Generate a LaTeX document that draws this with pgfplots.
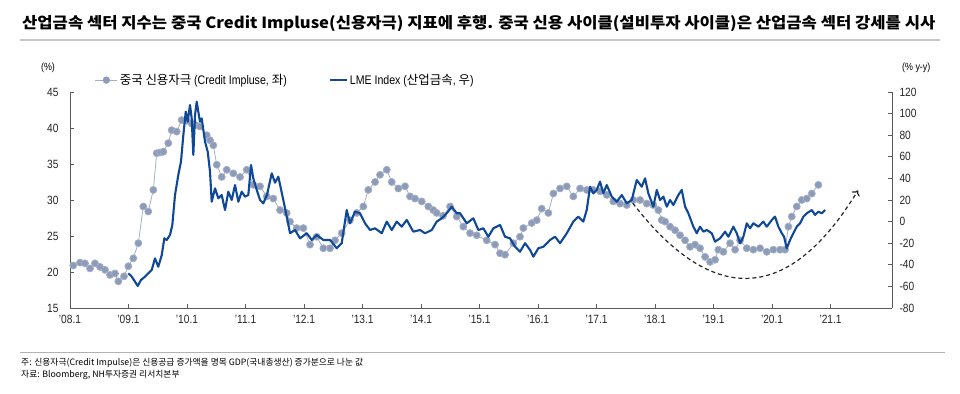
\documentclass[border=0pt]{standalone}
\usepackage{pgfplots}
\pgfplotsset{compat=1.18}
\usepackage{fontspec}
\setmainfont{Liberation Sans}[FakeStretch=0.85]
\newfontfamily\kr{Noto Sans CJK KR}[FakeStretch=0.9]
\newfontfamily\krn{Noto Sans CJK KR}
\usetikzlibrary{arrows.meta}
\definecolor{cgray}{RGB}{140,155,186}
\definecolor{cgrayline}{RGB}{165,175,195}
\definecolor{cblue}{RGB}{14,72,150}
\definecolor{caxis}{RGB}{90,90,90}

\pgfplotstableread{
x y
0.056 20.9
0.171 21.3
0.256 21.2
0.342 20.5
0.427 21.2
0.513 20.7
0.598 20.3
0.684 19.6
0.769 19.8
0.826 18.7
0.923 19.4
0.997 20.8
1.082 21.9
1.168 24.0
1.253 29.1
1.338 28.4
1.424 31.4
1.482 36.5
1.540 36.6
1.595 36.7
1.680 37.9
1.738 39.7
1.824 39.5
1.909 41.1
1.995 41.0
2.080 40.6
2.150 40.4
2.222 40.2
2.337 39.0
2.393 38.3
2.450 37.6
2.508 34.9
2.593 33.2
2.679 34.2
2.791 33.7
2.906 33.2
3.021 34.2
3.133 32.1
3.248 31.9
3.362 30.5
3.475 30.2
3.590 28.6
3.704 28.2
3.761 27.0
3.875 26.1
3.988 26.1
4.103 23.8
4.217 24.9
4.330 23.3
4.444 23.3
4.530 24.4
4.644 25.4
4.786 27.2
4.901 28.2
5.014 29.1
5.099 31.4
5.214 32.5
5.299 33.5
5.414 34.2
5.499 32.5
5.612 31.6
5.726 31.9
5.812 30.5
5.897 30.2
6.012 29.8
6.125 29.1
6.210 28.6
6.268 28.2
6.376 27.8
6.496 29.1
6.610 27.7
6.723 26.3
6.838 25.4
6.952 25.1
7.123 24.4
7.265 23.8
7.350 22.6
7.436 22.4
7.578 24.0
7.692 24.9
7.749 26.1
7.892 26.8
7.978 27.2
8.063 28.8
8.176 28.2
8.262 30.9
8.376 31.6
8.491 31.9
8.603 30.5
8.718 31.6
8.832 31.4
8.945 31.4
9.060 31.2
9.174 30.7
9.287 29.8
9.402 29.5
9.516 29.3
9.629 30.0
9.744 30.0
9.858 29.5
9.971 29.3
10.056 28.6
10.115 27.2
10.171 27.0
10.256 26.3
10.342 25.8
10.427 25.1
10.513 24.4
10.598 23.5
10.684 23.8
10.769 23.3
10.855 22.1
10.940 21.4
11.026 21.7
11.082 23.1
11.168 22.8
11.282 24.0
11.368 23.1
11.453 24.4
11.568 23.3
11.680 23.1
11.795 23.3
11.909 22.8
12.022 23.1
12.137 23.1
12.222 23.1
12.279 26.3
12.337 27.7
12.422 29.1
12.508 30.0
12.593 30.2
12.679 30.9
12.791 32.1
}\credit

\pgfplotstableread{
x y
0.997 -47.9
1.055 -51.0
1.111 -55.6
1.157 -59.6
1.214 -54.0
1.282 -51.0
1.338 -48.0
1.397 -44.8
1.453 -34.0
1.509 -41.8
1.568 -31.0
1.612 -15.5
1.653 -17.0
1.709 -12.4
1.749 -3.1
1.795 24.6
1.851 43.1
1.897 55.5
1.937 80.0
1.978 101.8
2.012 92.5
2.051 108.0
2.080 95.6
2.108 61.7
2.137 98.7
2.166 111.0
2.193 101.8
2.222 92.5
2.251 95.6
2.308 74.0
2.354 64.7
2.393 46.2
2.422 18.4
2.479 30.8
2.535 21.6
2.593 24.6
2.650 10.7
2.706 27.7
2.764 20.0
2.821 33.9
2.877 18.4
2.935 27.7
2.991 23.1
3.048 24.6
3.094 52.4
3.133 40.0
3.192 29.3
3.248 20.0
3.304 16.9
3.368 25.0
3.448 44.7
3.504 36.0
3.561 41.6
3.646 20.0
3.704 4.6
3.761 -10.8
3.846 -7.8
3.932 -15.5
4.046 -10.8
4.132 -17.0
4.217 -12.4
4.330 -17.0
4.444 -17.0
4.559 -24.7
4.644 -20.0
4.730 10.7
4.786 -1.6
4.872 9.2
4.957 7.7
5.043 -1.6
5.128 -7.8
5.214 -6.2
5.328 -10.8
5.414 0.0
5.499 -7.8
5.585 0.0
5.670 -4.7
5.756 1.5
5.868 -9.3
5.983 -7.8
6.068 -10.8
6.183 -7.8
6.268 0.0
6.354 3.1
6.439 7.7
6.525 13.8
6.610 7.7
6.667 7.7
6.723 3.1
6.781 -1.6
6.894 3.1
6.979 -7.8
7.065 -6.2
7.150 -14.0
7.236 -6.2
7.350 -3.1
7.436 -14.0
7.521 -15.5
7.607 -23.3
7.692 -27.9
7.778 -20.0
7.863 -26.2
7.920 -32.5
8.005 -24.7
8.091 -23.3
8.205 -17.0
8.291 -14.0
8.376 -20.0
8.491 -10.8
8.603 0.0
8.689 4.6
8.774 0.0
8.832 10.7
8.889 32.3
8.945 26.2
9.003 29.3
9.060 37.0
9.116 26.2
9.174 33.9
9.260 23.1
9.345 18.4
9.431 24.6
9.516 16.9
9.602 20.0
9.687 38.5
9.772 32.3
9.829 40.1
9.885 26.2
9.971 13.8
10.029 29.3
10.085 20.0
10.142 23.1
10.200 13.8
10.256 20.0
10.313 15.4
10.398 24.6
10.456 29.3
10.513 13.8
10.569 7.7
10.655 -4.7
10.713 -10.8
10.769 -4.7
10.826 -9.3
10.884 -7.8
10.969 -10.8
11.026 -18.6
11.111 -15.5
11.197 -9.3
11.253 -14.0
11.338 -4.7
11.396 -10.8
11.453 -20.1
11.509 -14.0
11.568 -1.6
11.624 -6.2
11.680 -1.6
11.766 -4.7
11.851 0.0
11.909 -4.7
11.995 1.5
12.051 4.6
12.108 -4.7
12.166 -10.8
12.205 -14.0
12.251 -24.7
12.308 -17.0
12.364 -10.8
12.422 -4.7
12.479 -1.6
12.535 4.6
12.593 7.7
12.679 10.7
12.735 6.2
12.791 9.2
12.849 7.7
12.906 10.7
}\lme

\begin{document}
\begin{tikzpicture}[x=1bp,y=1bp]
\path[use as bounding box] (0bp,0bp) rectangle (960bp,394bp);
% title
\node[anchor=west, inner sep=0pt] at (22bp,370bp) {\scalebox{1.075}[1]{\krn\bfseries\fontsize{15.5}{18}\selectfont 산업금속 섹터 지수는 중국 Credit Impluse(신용자극) 지표에 후행. 중국 신용 사이클(설비투자 사이클)은 산업금속 섹터 강세를 시사}};
\draw[black!22, line width=1.6bp] (20bp,354bp) -- (940bp,354bp);
% axis units
\node[inner sep=0pt, font=\fontsize{10.5}{12}\selectfont] at (48bp,326bp) {(\%)};
\node[anchor=west, inner sep=0pt, font=\fontsize{10.5}{12}\selectfont] at (902bp,326bp) {(\% y-y)};
% footer
\draw[black!30, line width=0.8bp] (20bp,42bp) -- (945bp,42bp);
\node[anchor=west, inner sep=0pt] at (21bp,31bp) {\krn\fontsize{8.8}{10}\selectfont 주: 신용자극(Credit Impulse)은 신용공급 증가액을 명목 GDP(국내총생산) 증가분으로 나눈 값};
\node[anchor=west, inner sep=0pt] at (21bp,19bp) {\krn\fontsize{8.8}{10}\selectfont 자료: Bloomberg, NH투자증권 리서치본부};

\begin{axis}[
  at={(70bp,86bp)}, anchor=south west, scale only axis,
  width=822bp, height=216bp,
  xmin=0, xmax=14.05, ymin=15, ymax=45,
  xtick={0,1,...,13},
  xticklabels={'08.1,'09.1,'10.1,'11.1,'12.1,'13.1,'14.1,'15.1,'16.1,'17.1,'18.1,'19.1,'20.1,'21.1},
  ytick={15,20,...,45},
  axis x line*=bottom, axis y line*=left,
  axis line style={caxis, line width=0.7bp},
  tick style={caxis, line width=0.6bp},
  tick align=inside, major tick length=4bp,
  ticklabel style={font=\fontsize{12}{13}\selectfont, text=black!85},
  /pgf/number format/assume math mode=true,
  xticklabel style={yshift=-4bp},
  yticklabel style={xshift=-8bp},
  clip=false,
]
\addplot[color=cgrayline, line width=0.8bp, mark=*, mark size=3.5bp, mark options={fill=cgray, draw=none}] table[x=x,y=y] {\credit};
\end{axis}

\begin{axis}[
  at={(70bp,86bp)}, anchor=south west, scale only axis,
  width=822bp, height=216bp,
  xmin=0, xmax=14.05, ymin=-80, ymax=120,
  ytick={-80,-60,...,120},
  axis x line=none, axis y line*=right,
  axis line style={caxis, line width=0.7bp},
  tick style={caxis, line width=0.6bp},
  tick align=inside, major tick length=4bp,
  ticklabel style={font=\fontsize{12}{13}\selectfont, text=black!85},
  /pgf/number format/assume math mode=true,
  yticklabel style={xshift=4bp},
  legend style={at={(axis description cs:0.03,1.055)}, anchor=west, draw=none, fill=none,
    font=\fontsize{12.5}{14}\selectfont, inner sep=0pt,
    /tikz/every even column/.append style={column sep=40bp}},
  legend columns=2,
  clip=false,
]
\addlegendimage{legend image code/.code={\draw[cgrayline, line width=1bp] (0bp,0bp) -- (22bp,0bp); \fill[cgray] (11bp,0bp) circle (3.4bp);}}
\addlegendentry{\krn 중국 신용자극 \rmfamily(Credit Impluse, \krn 좌\rmfamily)}
\addplot[color=cblue, line width=2.1bp, line join=round] table[x=x,y=y] {\lme};
\addlegendentry{LME Index (\krn 산업금속\rmfamily, \krn 우\rmfamily)}
\draw[black!85, line width=1.2bp, dash pattern=on 4bp off 3bp, -{To[length=5bp,width=9bp]}]
  (axis cs:9.62,17) .. controls (axis cs:11.0,-80) and (axis cs:12.3,-75) .. (axis cs:13.47,29);
\end{axis}
\end{tikzpicture}
\end{document}
